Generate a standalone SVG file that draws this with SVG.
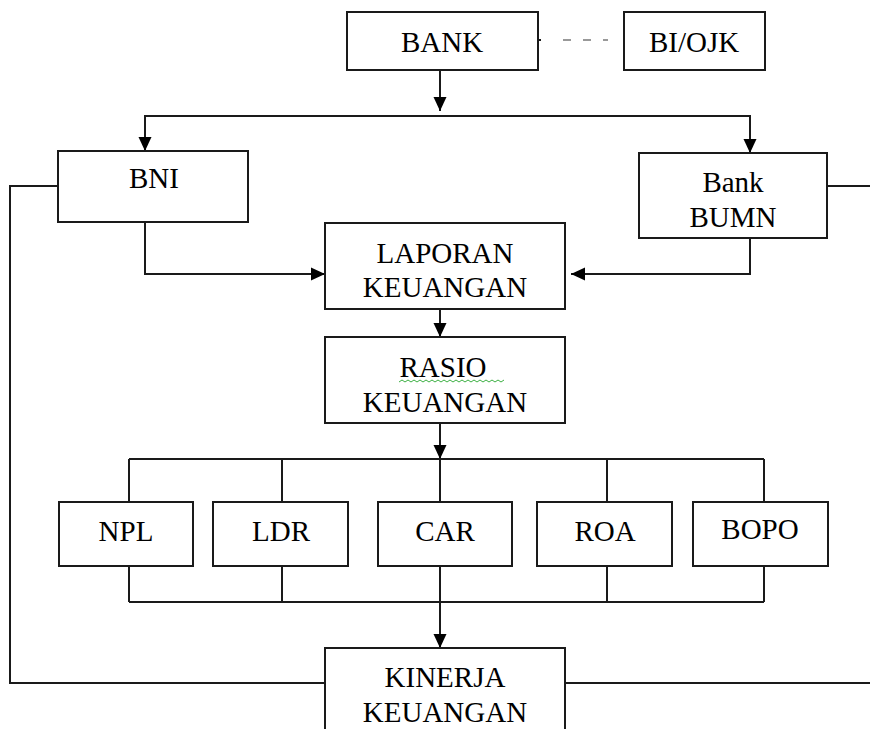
<svg xmlns="http://www.w3.org/2000/svg" width="870" height="729" viewBox="0 0 870 729">
<style>
  .box { fill: #fff; stroke: #1a1a1a; stroke-width: 2; }
  .lbl { font-family: "Liberation Serif", "Times New Roman", serif; font-size: 29px; fill: #000; text-anchor: middle; }
  .ln { fill: none; stroke: #1a1a1a; stroke-width: 2; }
  .arr { marker-end: url(#ah); }
</style>
<defs>
  <marker id="ah" viewBox="0 0 14 14" refX="14" refY="7" markerWidth="14" markerHeight="14" markerUnits="userSpaceOnUse" orient="auto">
    <path d="M0,0.5 L14,7 L0,13.5 z" fill="#000"/>
  </marker>
</defs>
<rect width="870" height="729" fill="#fff"/>
<g id="connectors">
  <path class="ln" d="M563,40 H608" stroke="#999" style="stroke:#999;stroke-dasharray:8 12"/>
  <path class="ln" d="M538,40 H541"/>
  <path class="ln arr" d="M440,70 V111"/>
  <path class="ln arr" d="M440,116 H145 V151"/>
  <path class="ln arr" d="M440,116 H750 V153"/>
  <path class="ln arr" d="M145,222 V274 H325"/>
  <path class="ln arr" d="M750,238 V274 H571"/>
  <path class="ln" d="M58,186 H10 V683 H325"/>
  <path class="ln" d="M827,186 H870"/>
  <path class="ln" d="M565,683 H870"/>
  <path class="ln arr" d="M440,309 V337"/>
  <path class="ln arr" d="M440,423 V459"/>
  <path class="ln" d="M129,459 H764 M129,459 V502 M282,459 V502 M440,459 V502 M607,459 V502 M764,459 V502"/>
  <path class="ln" d="M129,602 H764 M129,566 V602 M282,566 V602 M440,566 V602 M607,566 V602 M764,566 V602"/>
  <path class="ln arr" d="M440,602 V648"/>
</g>
<g id="bank">
  <rect class="box" x="347" y="12" width="191" height="58"/>
  <text class="lbl" x="442" y="52">BANK</text>
</g>
<g id="biojk">
  <rect class="box" x="624" y="12" width="141" height="58"/>
  <text class="lbl" x="694" y="52">BI/OJK</text>
</g>
<g id="bni">
  <rect class="box" x="58" y="151" width="190" height="71"/>
  <text class="lbl" x="154" y="188">BNI</text>
</g>
<g id="bumn">
  <rect class="box" x="639" y="153" width="188" height="85"/>
  <text class="lbl" x="733" y="192">Bank</text>
  <text class="lbl" x="733" y="227">BUMN</text>
</g>
<g id="laporan">
  <rect class="box" x="325" y="223" width="240" height="86"/>
  <text class="lbl" x="445" y="263">LAPORAN</text>
  <text class="lbl" x="445" y="297">KEUANGAN</text>
</g>
<g id="rasio">
  <rect class="box" x="325" y="337" width="240" height="86"/>
  <text class="lbl" x="443" y="377">RASIO</text>
  <path d="M399,382 l3,-2 l3,2 l3,-2 l3,2 l3,-2 l3,2 l3,-2 l3,2 l3,-2 l3,2 l3,-2 l3,2 l3,-2 l3,2 l3,-2 l3,2 l3,-2 l3,2 l3,-2 l3,2 l3,-2 l3,2 l3,-2 l3,2 l3,-2 l3,2 l3,-2 l3,2 l3,-2 l3,2 l3,-2 l3,2 l3,-2 l3,2 l3,-2" fill="none" stroke="#3cb043" stroke-width="1"/>
  <text class="lbl" x="445" y="412">KEUANGAN</text>
</g>
<g id="npl">
  <rect class="box" x="59" y="502" width="134" height="64"/>
  <text class="lbl" x="126" y="541">NPL</text>
</g>
<g id="ldr">
  <rect class="box" x="213" y="502" width="135" height="64"/>
  <text class="lbl" x="281" y="541">LDR</text>
</g>
<g id="car">
  <rect class="box" x="378" y="502" width="134" height="64"/>
  <text class="lbl" x="445" y="541">CAR</text>
</g>
<g id="roa">
  <rect class="box" x="537" y="502" width="135" height="64"/>
  <text class="lbl" x="605" y="541">ROA</text>
</g>
<g id="bopo">
  <rect class="box" x="693" y="502" width="135" height="64"/>
  <text class="lbl" x="760" y="539">BOPO</text>
</g>
<g id="kinerja">
  <rect class="box" x="325" y="648" width="240" height="90"/>
  <text class="lbl" x="445" y="687">KINERJA</text>
  <text class="lbl" x="445" y="722">KEUANGAN</text>
</g>
</svg>
